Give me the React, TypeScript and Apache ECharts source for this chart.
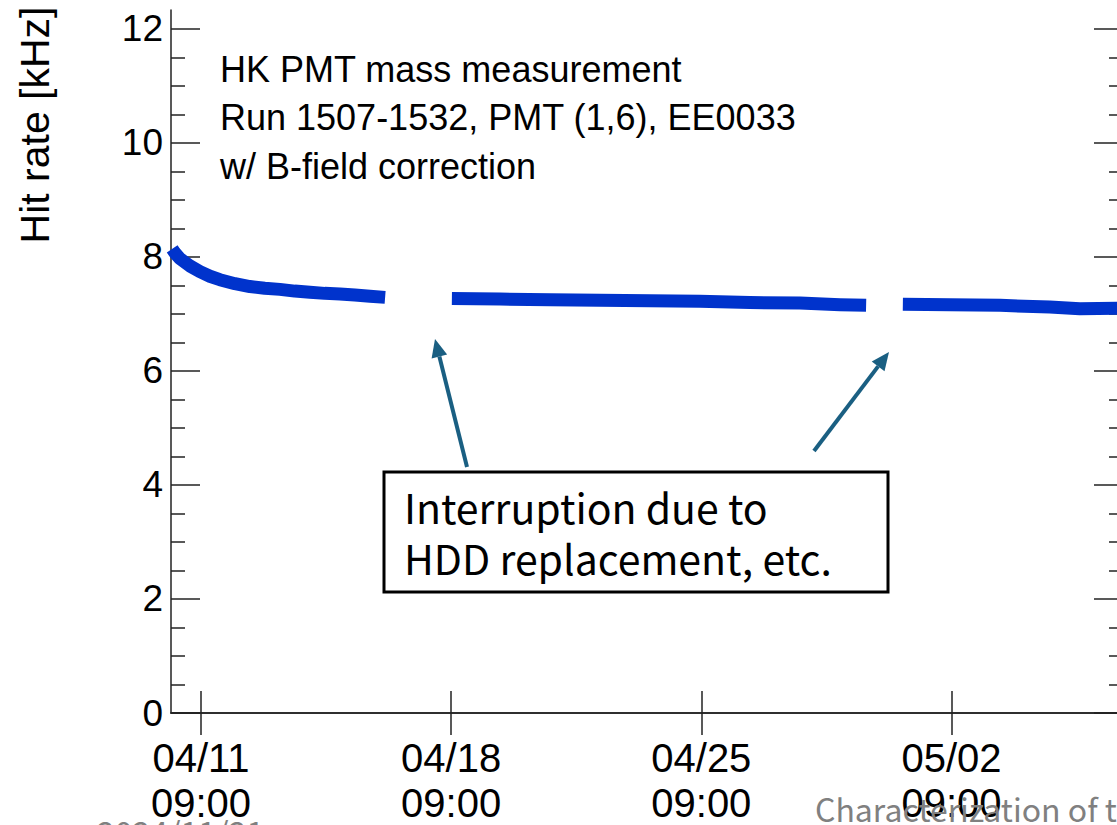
import React, { useEffect, useRef } from 'react';
import * as echarts from 'echarts';

// ---- data ----
const xTickTimes = ['2024-04-11 09:00', '2024-04-18 09:00', '2024-04-25 09:00', '2024-05-02 09:00', '2024-05-09 09:00'];
const xMinTime = '2024-04-10 12:53';
const xMaxTime = '2024-05-07 04:10';
const yMajorTicks = [0, 2, 4, 6, 8, 10, 12];
const yMinorTicks = [0.5, 1, 1.5, 2.5, 3, 3.5, 4.5, 5, 5.5, 6.5, 7, 7.5, 8.5, 9, 9.5, 10.5, 11, 11.5];
const yMax = 12.33;

const run1Times = [
  '2024-04-10 13:40', '2024-04-10 15:30', '2024-04-10 18:50', '2024-04-11 01:40', '2024-04-11 08:20',
  '2024-04-11 15:00', '2024-04-11 21:40', '2024-04-12 07:50', '2024-04-12 17:50', '2024-04-13 03:50',
  '2024-04-13 14:00', '2024-04-14 00:00', '2024-04-14 10:10', '2024-04-14 20:10', '2024-04-15 06:20',
  '2024-04-15 16:20', '2024-04-16 02:30', '2024-04-16 12:40',
];
const run1Rates = [8.14, 8.07, 7.97, 7.84, 7.74, 7.66, 7.6, 7.53, 7.48, 7.45, 7.43, 7.4, 7.38, 7.36, 7.35, 7.33, 7.31, 7.29];

const run2Times = [
  '2024-04-18 09:30', '2024-04-19 17:50', '2024-04-21 03:30', '2024-04-22 12:50', '2024-04-23 22:25',
  '2024-04-25 08:00', '2024-04-26 17:40', '2024-04-28 03:15', '2024-04-29 06:10', '2024-04-29 23:40',
];
const run2Rates = [7.27, 7.26, 7.25, 7.24, 7.23, 7.22, 7.2, 7.19, 7.16, 7.15];

const run3Times = [
  '2024-05-01 00:20', '2024-05-02 08:00', '2024-05-03 17:40', '2024-05-05 03:00', '2024-05-05 23:10',
  '2024-05-07 00:00', '2024-05-07 04:10',
];
const run3Rates = [7.17, 7.16, 7.15, 7.12, 7.09, 7.1, 7.1];

const titleLines = ['HK PMT mass measurement', 'Run 1507-1532, PMT (1,6), EE0033', 'w/ B-field correction'];
const noteLines = ['Interruption due to', 'HDD replacement, etc.'];

const toMs = (s: string) => new Date(s.replace(' ', 'T') + ':00').getTime();
const pad = (n: number) => (n < 10 ? '0' + n : '' + n);
const pairs = (t: string[], v: number[]) => t.map((s, i) => [toMs(s), v[i]]);

const AXIS_FONT = '"Liberation Sans", Arial, Helvetica, sans-serif';
const NOTE_FONT = '"Noto Sans CJK JP", "Noto Sans", sans-serif';
const BAND = '#0033cc';
const ARROW = '#1a5f82';

function arrow(tail: number[], tip: number[]) {
  const dx = tip[0] - tail[0];
  const dy = tip[1] - tail[1];
  const len = Math.hypot(dx, dy);
  const ux = dx / len, uy = dy / len;
  const hl = 18, hw = 8;
  const bx = tip[0] - ux * hl, by = tip[1] - uy * hl;
  const px = -uy, py = ux;
  return [
    { type: 'line', shape: { x1: tail[0], y1: tail[1], x2: bx, y2: by }, style: { stroke: ARROW, lineWidth: 4 }, z: 100 },
    {
      type: 'polygon',
      shape: { points: [[tip[0], tip[1]], [bx + px * hw, by + py * hw], [bx - px * hw, by - py * hw]] },
      style: { fill: ARROW },
      z: 100,
    },
  ];
}

export default function App() {
  const ref = useRef<HTMLDivElement>(null);
  useEffect(() => {
    if (!ref.current) return;
    const chart = echarts.init(ref.current, null, { renderer: 'svg' });
    const xMin = toMs(xMinTime);
    const xMax = toMs(xMaxTime);
    const xTicks = xTickTimes.map(toMs);
    const axisLineStyle = { color: '#222', width: 1.5 };
    const tickStyle = { color: '#222', width: 1.5 };
    const seriesBase = {
      type: 'line',
      showSymbol: false,
      symbol: 'none',
      lineStyle: { color: BAND, width: 13, cap: 'butt', join: 'round' },
      itemStyle: { color: BAND },
      xAxisIndex: 0,
      yAxisIndex: 0,
      z: 5,
    };
    const option: any = {
      animation: false,
      backgroundColor: '#ffffff',
      grid: { left: 171, right: 17, top: 10, bottom: 100, containLabel: false },
      xAxis: [
        {
          type: 'value',
          position: 'bottom',
          min: xMin,
          max: xMax,
          axisLine: { show: true, lineStyle: axisLineStyle },
          axisTick: { show: true, inside: true, length: 22, lineStyle: tickStyle, customValues: xTicks },
          axisLabel: {
            show: true,
            customValues: xTicks,
            margin: 22,
            fontSize: 40,
            lineHeight: 45,
            color: '#000',
            fontFamily: AXIS_FONT,
            formatter: (v: number) => {
              const d = new Date(v);
              return pad(d.getMonth() + 1) + '/' + pad(d.getDate()) + '\n' + pad(d.getHours()) + ':' + pad(d.getMinutes());
            },
          },
          splitLine: { show: false },
        },
        {
          type: 'value',
          position: 'top',
          min: xMin,
          max: xMax,
          axisLine: { show: true, lineStyle: axisLineStyle },
          axisTick: { show: true, inside: true, length: 22, lineStyle: tickStyle, customValues: xTicks },
          axisLabel: { show: false },
          splitLine: { show: false },
        },
      ],
      yAxis: [
        {
          type: 'value',
          position: 'left',
          min: 0,
          max: yMax,
          axisLine: { show: true, lineStyle: axisLineStyle },
          axisTick: { show: true, inside: true, length: 29, lineStyle: tickStyle, customValues: yMajorTicks },
          axisLabel: {
            show: true,
            customValues: yMajorTicks,
            margin: 8,
            fontSize: 37,
            color: '#000',
            fontFamily: AXIS_FONT,
          },
          splitLine: { show: false },
        },
        {
          type: 'value',
          position: 'left',
          min: 0,
          max: yMax,
          axisLine: { show: false },
          axisTick: { show: true, inside: true, length: 14, lineStyle: tickStyle, customValues: yMinorTicks },
          axisLabel: { show: false },
          splitLine: { show: false },
        },
        {
          type: 'value',
          position: 'right',
          min: 0,
          max: yMax,
          axisLine: { show: true, lineStyle: axisLineStyle },
          axisTick: { show: true, inside: true, length: 29, lineStyle: tickStyle, customValues: yMajorTicks },
          axisLabel: { show: false },
          splitLine: { show: false },
        },
        {
          type: 'value',
          position: 'right',
          min: 0,
          max: yMax,
          axisLine: { show: false },
          axisTick: { show: true, inside: true, length: 14, lineStyle: tickStyle, customValues: yMinorTicks },
          axisLabel: { show: false },
          splitLine: { show: false },
        },
      ],
      series: [
        { ...seriesBase, name: 'run1', data: pairs(run1Times, run1Rates) },
        { ...seriesBase, name: 'run2', data: pairs(run2Times, run2Rates) },
        { ...seriesBase, name: 'run3', data: pairs(run3Times, run3Rates) },
      ],
      graphic: [
        {
          type: 'text',
          x: 35,
          y: 125,
          rotation: Math.PI / 2,
          style: { text: 'Hit rate [kHz]', fontSize: 41, fontFamily: AXIS_FONT, fill: '#000', align: 'center', verticalAlign: 'middle' },
          z: 100,
        },
        ...titleLines.map((t, i) => ({
          type: 'text',
          x: 220,
          y: 69 + i * 48.5,
          style: { text: t, fontSize: 36, fontFamily: AXIS_FONT, fill: '#000', align: 'left', verticalAlign: 'middle' },
          z: 100,
        })),
        ...arrow([467, 467], [435, 339]),
        ...arrow([814, 451], [889, 352]),
        {
          type: 'rect',
          shape: { x: 384, y: 472, width: 504, height: 120 },
          style: { fill: '#fff', stroke: '#000', lineWidth: 3 },
          z: 101,
        },
        ...noteLines.map((t, i) => ({
          type: 'text',
          x: 404,
          y: 506 + i * 51,
          style: { text: t, fontSize: 41, fontFamily: NOTE_FONT, fill: '#000', align: 'left', verticalAlign: 'middle' },
          z: 102,
        })),
        {
          type: 'text',
          x: 815,
          y: 808,
          style: { text: 'Characterization of t', fontSize: 32, fontFamily: NOTE_FONT, fill: '#808080', align: 'left', verticalAlign: 'middle' },
          z: 90,
        },
        {
          type: 'text',
          x: 97,
          y: 831,
          style: { text: '2024/11/21', fontSize: 32, fontFamily: NOTE_FONT, fill: '#808080', align: 'left', verticalAlign: 'middle' },
          z: 90,
        },
      ],
    };
    chart.setOption(option);
    return () => chart.dispose();
  }, []);
  return (
    <div style={{ position: 'fixed', left: 0, top: 0, width: 1117, height: 825, overflow: 'hidden', background: '#fff' }}>
      <div ref={ref} style={{ position: 'absolute', left: 0, top: 0, width: 1140, height: 825 }} />
    </div>
  );
}
